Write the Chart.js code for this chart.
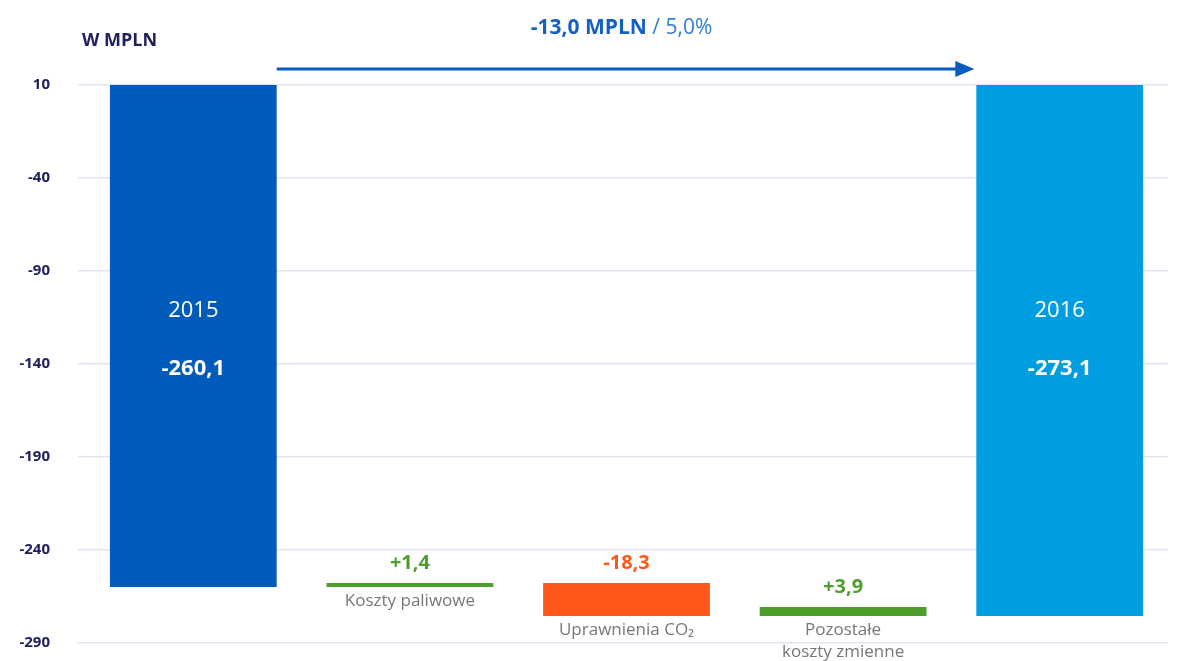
<!DOCTYPE html>
<html>
<head>
<meta charset="utf-8">
<script src="https://cdn.jsdelivr.net/npm/chart.js@4.4.1/dist/chart.umd.min.js"></script>
<style>
  html, body { margin: 0; padding: 0; background: #fff; overflow: hidden; }
  canvas { display: block; }
</style>
</head>
<body>
<canvas id="waterfallChart" width="1184" height="661"></canvas>
<script>
// dane (w MPLN)
const categories = ['2015', 'Koszty paliwowe', 'Uprawnienia CO\u2082', 'Pozostałe\nkoszty zmienne', '2016'];
const barStart = [10, -257.7, -257.7, -270.6, 10];
const barEnd = [-259.9, -259.9, -275.5, -275.5, -275.5];
const valueLabels = ['-260,1', '+1,4', '-18,3', '+3,9', '-273,1'];
const isTotal = [true, false, false, false, true];
const barColors = ['#005bbb', '#4c9f2b', '#ff5719', '#4c9f2b', '#009ee0'];
const labelColors = ['#ffffff', '#4c9f2b', '#ff5719', '#4c9f2b', '#ffffff'];
const yTicks = [10, -40, -90, -140, -190, -240, -290];
const headline = '-13,0 MPLN';
const headlineSub = ' / 5,0%';
const unitLabel = 'W MPLN';

const navy = '#1e2160';
const font = '"Open Sans", sans-serif';

const labelsPlugin = {
  id: 'waterfallLabels',
  afterDatasetsDraw(chart) {
    const ctx = chart.ctx;
    const area = chart.chartArea;
    const bars = chart.getDatasetMeta(0).data;
    ctx.save();
    ctx.textAlign = 'center';
    ctx.textBaseline = 'middle';

    bars.forEach((bar, i) => {
      const top = Math.min(bar.y, bar.base);
      const bottom = Math.max(bar.y, bar.base);
      if (isTotal[i]) {
        ctx.fillStyle = '#ffffff';
        ctx.font = '22px ' + font;
        ctx.fillText(categories[i], bar.x, area.top + 226);
        ctx.font = 'bold 22px ' + font;
        ctx.fillText(valueLabels[i], bar.x, area.top + 284);
      } else {
        ctx.fillStyle = labelColors[i];
        ctx.font = 'bold 20px ' + font;
        ctx.fillText(valueLabels[i], bar.x, top - 20);
        ctx.fillStyle = '#777777';
        ctx.font = '17px ' + font;
        ctx.textBaseline = 'top';
        categories[i].split('\n').forEach((line, k) => {
          ctx.fillText(line, bar.x, bottom + 6 + k * 22);
        });
        ctx.textBaseline = 'middle';
      }
    });

    // strzałka od 2015 do 2016
    const first = bars[0];
    const last = bars[bars.length - 1];
    const x0 = first.x + first.width / 2;
    const x1 = last.x - last.width / 2 - 2;
    const ay = area.top - 16;
    ctx.strokeStyle = '#0a5bbf';
    ctx.fillStyle = '#0a5bbf';
    ctx.lineWidth = 3;
    ctx.beginPath();
    ctx.moveTo(x0, ay);
    ctx.lineTo(x1 - 16, ay);
    ctx.stroke();
    ctx.beginPath();
    ctx.moveTo(x1 - 19, ay - 8);
    ctx.lineTo(x1, ay);
    ctx.lineTo(x1 - 19, ay + 8);
    ctx.closePath();
    ctx.fill();

    // nagłówek zmiany
    ctx.textAlign = 'left';
    ctx.font = 'bold 21px ' + font;
    const w1 = ctx.measureText(headline).width;
    ctx.font = '21px ' + font;
    const w2 = ctx.measureText(headlineSub).width;
    const hx = (x0 + x1) / 2 - 4 - (w1 + w2) / 2;
    ctx.font = 'bold 21px ' + font;
    ctx.fillStyle = '#1560c4';
    ctx.fillText(headline, hx, 28);
    ctx.font = '21px ' + font;
    ctx.fillStyle = '#2e7fd6';
    ctx.fillText(headlineSub, hx + w1, 28);

    // jednostka
    ctx.fillStyle = navy;
    ctx.font = 'bold 18px ' + font;
    ctx.fillText(unitLabel, 82, 41);
    ctx.restore();
  }
};

function loadChart() {
  const ctx = document.getElementById('waterfallChart').getContext('2d');

  const chartData = {
    labels: categories,
    datasets: [{
      data: barStart.map((s, i) => [s, barEnd[i]]),
      backgroundColor: barColors,
      borderWidth: 0,
      barPercentage: 0.77,
      categoryPercentage: 1.0
    }]
  };

  const config = {
    type: 'bar',
    data: chartData,
    options: {
      responsive: false,
      animation: false,
      layout: { padding: { top: 85, right: 16, bottom: 18, left: 0 } },
      plugins: {
        legend: { display: false },
        tooltip: { enabled: false }
      },
      scales: {
        x: { display: false },
        y: {
          min: -290,
          max: 10,
          afterBuildTicks: scale => { scale.ticks = yTicks.map(v => ({ value: v })); },
          afterFit: scale => {
            scale.width = 85;
            scale.paddingTop = 0;
            scale.paddingBottom = 0;
          },
          border: { display: false },
          grid: { color: '#e3e3f1', lineWidth: 1.5, tickLength: 7, drawTicks: true },
          ticks: {
            padding: 28,
            color: navy,
            font: { family: 'Open Sans', size: 15, weight: 'bold' }
          }
        }
      }
    },
    plugins: [labelsPlugin]
  };

  if (window.waterfallChart && window.waterfallChart instanceof Chart) {
    window.waterfallChart.destroy();
  }
  window.waterfallChart = new Chart(ctx, config);
}

loadChart();
</script>
</body>
</html>
